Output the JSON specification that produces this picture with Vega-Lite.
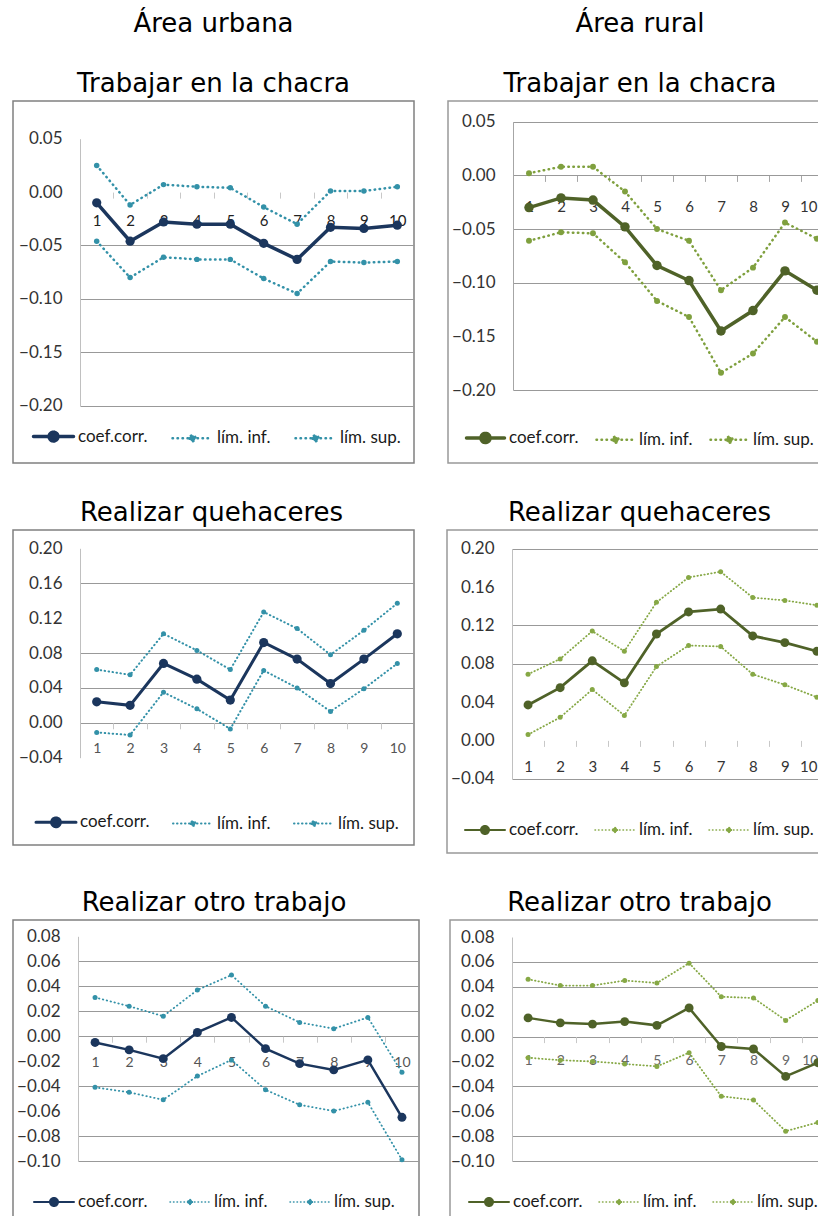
{
  "$schema": "https://vega.github.io/schema/vega-lite/v6.json",
  "padding": {"left": 12, "top": 10, "right": 0, "bottom": 0},
  "spacing": 35,
  "resolve": {"scale": {"color": "independent"}, "legend": {"color": "independent"}},
  "config": {
    "font": "Lato",
    "title": {"font": "DejaVu Sans", "fontSize": 26, "fontWeight": "normal", "color": "#000000", "anchor": "middle", "frame": "group", "baseline": "bottom", "offset": 4, "lineHeight": 30},
    "axis": {"labelFont": "Lato", "labelOverlap": false, "labelSeparation": -30},
    "legend": {"labelFont": "Lato", "padding": 0, "labelLimit": 300}
  },
  "datasets": {
    "u1": [
      {"decil":1,"serie":"coef.corr.","valor":-0.010},{"decil":2,"serie":"coef.corr.","valor":-0.046},{"decil":3,"serie":"coef.corr.","valor":-0.028},{"decil":4,"serie":"coef.corr.","valor":-0.030},{"decil":5,"serie":"coef.corr.","valor":-0.030},{"decil":6,"serie":"coef.corr.","valor":-0.048},{"decil":7,"serie":"coef.corr.","valor":-0.063},{"decil":8,"serie":"coef.corr.","valor":-0.033},{"decil":9,"serie":"coef.corr.","valor":-0.034},{"decil":10,"serie":"coef.corr.","valor":-0.031},
      {"decil":1,"serie":"lím. inf.","valor":-0.046},{"decil":2,"serie":"lím. inf.","valor":-0.080},{"decil":3,"serie":"lím. inf.","valor":-0.061},{"decil":4,"serie":"lím. inf.","valor":-0.063},{"decil":5,"serie":"lím. inf.","valor":-0.063},{"decil":6,"serie":"lím. inf.","valor":-0.081},{"decil":7,"serie":"lím. inf.","valor":-0.095},{"decil":8,"serie":"lím. inf.","valor":-0.065},{"decil":9,"serie":"lím. inf.","valor":-0.066},{"decil":10,"serie":"lím. inf.","valor":-0.065},
      {"decil":1,"serie":"lím. sup.","valor":0.025},{"decil":2,"serie":"lím. sup.","valor":-0.012},{"decil":3,"serie":"lím. sup.","valor":0.007},{"decil":4,"serie":"lím. sup.","valor":0.005},{"decil":5,"serie":"lím. sup.","valor":0.004},{"decil":6,"serie":"lím. sup.","valor":-0.014},{"decil":7,"serie":"lím. sup.","valor":-0.030},{"decil":8,"serie":"lím. sup.","valor":0.001},{"decil":9,"serie":"lím. sup.","valor":0.001},{"decil":10,"serie":"lím. sup.","valor":0.005}
    ],
    "r1": [
      {"decil":1,"serie":"coef.corr.","valor":-0.030},{"decil":2,"serie":"coef.corr.","valor":-0.021},{"decil":3,"serie":"coef.corr.","valor":-0.023},{"decil":4,"serie":"coef.corr.","valor":-0.048},{"decil":5,"serie":"coef.corr.","valor":-0.084},{"decil":6,"serie":"coef.corr.","valor":-0.098},{"decil":7,"serie":"coef.corr.","valor":-0.145},{"decil":8,"serie":"coef.corr.","valor":-0.126},{"decil":9,"serie":"coef.corr.","valor":-0.089},{"decil":10,"serie":"coef.corr.","valor":-0.107},
      {"decil":1,"serie":"lím. inf.","valor":-0.061},{"decil":2,"serie":"lím. inf.","valor":-0.053},{"decil":3,"serie":"lím. inf.","valor":-0.054},{"decil":4,"serie":"lím. inf.","valor":-0.081},{"decil":5,"serie":"lím. inf.","valor":-0.117},{"decil":6,"serie":"lím. inf.","valor":-0.132},{"decil":7,"serie":"lím. inf.","valor":-0.184},{"decil":8,"serie":"lím. inf.","valor":-0.166},{"decil":9,"serie":"lím. inf.","valor":-0.132},{"decil":10,"serie":"lím. inf.","valor":-0.155},
      {"decil":1,"serie":"lím. sup.","valor":0.002},{"decil":2,"serie":"lím. sup.","valor":0.008},{"decil":3,"serie":"lím. sup.","valor":0.008},{"decil":4,"serie":"lím. sup.","valor":-0.015},{"decil":5,"serie":"lím. sup.","valor":-0.050},{"decil":6,"serie":"lím. sup.","valor":-0.061},{"decil":7,"serie":"lím. sup.","valor":-0.107},{"decil":8,"serie":"lím. sup.","valor":-0.086},{"decil":9,"serie":"lím. sup.","valor":-0.044},{"decil":10,"serie":"lím. sup.","valor":-0.059}
    ],
    "u2": [
      {"decil":1,"serie":"coef.corr.","valor":0.024},{"decil":2,"serie":"coef.corr.","valor":0.020},{"decil":3,"serie":"coef.corr.","valor":0.068},{"decil":4,"serie":"coef.corr.","valor":0.050},{"decil":5,"serie":"coef.corr.","valor":0.026},{"decil":6,"serie":"coef.corr.","valor":0.092},{"decil":7,"serie":"coef.corr.","valor":0.073},{"decil":8,"serie":"coef.corr.","valor":0.045},{"decil":9,"serie":"coef.corr.","valor":0.073},{"decil":10,"serie":"coef.corr.","valor":0.102},
      {"decil":1,"serie":"lím. inf.","valor":-0.011},{"decil":2,"serie":"lím. inf.","valor":-0.014},{"decil":3,"serie":"lím. inf.","valor":0.035},{"decil":4,"serie":"lím. inf.","valor":0.016},{"decil":5,"serie":"lím. inf.","valor":-0.007},{"decil":6,"serie":"lím. inf.","valor":0.060},{"decil":7,"serie":"lím. inf.","valor":0.040},{"decil":8,"serie":"lím. inf.","valor":0.013},{"decil":9,"serie":"lím. inf.","valor":0.039},{"decil":10,"serie":"lím. inf.","valor":0.068},
      {"decil":1,"serie":"lím. sup.","valor":0.061},{"decil":2,"serie":"lím. sup.","valor":0.055},{"decil":3,"serie":"lím. sup.","valor":0.102},{"decil":4,"serie":"lím. sup.","valor":0.083},{"decil":5,"serie":"lím. sup.","valor":0.061},{"decil":6,"serie":"lím. sup.","valor":0.127},{"decil":7,"serie":"lím. sup.","valor":0.108},{"decil":8,"serie":"lím. sup.","valor":0.078},{"decil":9,"serie":"lím. sup.","valor":0.106},{"decil":10,"serie":"lím. sup.","valor":0.137}
    ],
    "r2": [
      {"decil":1,"serie":"coef.corr.","valor":0.037},{"decil":2,"serie":"coef.corr.","valor":0.055},{"decil":3,"serie":"coef.corr.","valor":0.083},{"decil":4,"serie":"coef.corr.","valor":0.060},{"decil":5,"serie":"coef.corr.","valor":0.111},{"decil":6,"serie":"coef.corr.","valor":0.134},{"decil":7,"serie":"coef.corr.","valor":0.137},{"decil":8,"serie":"coef.corr.","valor":0.109},{"decil":9,"serie":"coef.corr.","valor":0.102},{"decil":10,"serie":"coef.corr.","valor":0.093},
      {"decil":1,"serie":"lím. inf.","valor":0.006},{"decil":2,"serie":"lím. inf.","valor":0.024},{"decil":3,"serie":"lím. inf.","valor":0.053},{"decil":4,"serie":"lím. inf.","valor":0.026},{"decil":5,"serie":"lím. inf.","valor":0.077},{"decil":6,"serie":"lím. inf.","valor":0.099},{"decil":7,"serie":"lím. inf.","valor":0.098},{"decil":8,"serie":"lím. inf.","valor":0.069},{"decil":9,"serie":"lím. inf.","valor":0.058},{"decil":10,"serie":"lím. inf.","valor":0.045},
      {"decil":1,"serie":"lím. sup.","valor":0.069},{"decil":2,"serie":"lím. sup.","valor":0.085},{"decil":3,"serie":"lím. sup.","valor":0.114},{"decil":4,"serie":"lím. sup.","valor":0.093},{"decil":5,"serie":"lím. sup.","valor":0.144},{"decil":6,"serie":"lím. sup.","valor":0.170},{"decil":7,"serie":"lím. sup.","valor":0.176},{"decil":8,"serie":"lím. sup.","valor":0.149},{"decil":9,"serie":"lím. sup.","valor":0.146},{"decil":10,"serie":"lím. sup.","valor":0.141}
    ],
    "u3": [
      {"decil":1,"serie":"coef.corr.","valor":-0.005},{"decil":2,"serie":"coef.corr.","valor":-0.011},{"decil":3,"serie":"coef.corr.","valor":-0.018},{"decil":4,"serie":"coef.corr.","valor":0.003},{"decil":5,"serie":"coef.corr.","valor":0.015},{"decil":6,"serie":"coef.corr.","valor":-0.010},{"decil":7,"serie":"coef.corr.","valor":-0.022},{"decil":8,"serie":"coef.corr.","valor":-0.027},{"decil":9,"serie":"coef.corr.","valor":-0.019},{"decil":10,"serie":"coef.corr.","valor":-0.065},
      {"decil":1,"serie":"lím. inf.","valor":-0.041},{"decil":2,"serie":"lím. inf.","valor":-0.045},{"decil":3,"serie":"lím. inf.","valor":-0.051},{"decil":4,"serie":"lím. inf.","valor":-0.032},{"decil":5,"serie":"lím. inf.","valor":-0.019},{"decil":6,"serie":"lím. inf.","valor":-0.043},{"decil":7,"serie":"lím. inf.","valor":-0.055},{"decil":8,"serie":"lím. inf.","valor":-0.060},{"decil":9,"serie":"lím. inf.","valor":-0.053},{"decil":10,"serie":"lím. inf.","valor":-0.099},
      {"decil":1,"serie":"lím. sup.","valor":0.031},{"decil":2,"serie":"lím. sup.","valor":0.024},{"decil":3,"serie":"lím. sup.","valor":0.016},{"decil":4,"serie":"lím. sup.","valor":0.037},{"decil":5,"serie":"lím. sup.","valor":0.049},{"decil":6,"serie":"lím. sup.","valor":0.024},{"decil":7,"serie":"lím. sup.","valor":0.011},{"decil":8,"serie":"lím. sup.","valor":0.006},{"decil":9,"serie":"lím. sup.","valor":0.015},{"decil":10,"serie":"lím. sup.","valor":-0.029}
    ],
    "r3": [
      {"decil":1,"serie":"coef.corr.","valor":0.015},{"decil":2,"serie":"coef.corr.","valor":0.011},{"decil":3,"serie":"coef.corr.","valor":0.010},{"decil":4,"serie":"coef.corr.","valor":0.012},{"decil":5,"serie":"coef.corr.","valor":0.009},{"decil":6,"serie":"coef.corr.","valor":0.023},{"decil":7,"serie":"coef.corr.","valor":-0.008},{"decil":8,"serie":"coef.corr.","valor":-0.010},{"decil":9,"serie":"coef.corr.","valor":-0.032},{"decil":10,"serie":"coef.corr.","valor":-0.021},
      {"decil":1,"serie":"lím. inf.","valor":-0.017},{"decil":2,"serie":"lím. inf.","valor":-0.019},{"decil":3,"serie":"lím. inf.","valor":-0.020},{"decil":4,"serie":"lím. inf.","valor":-0.022},{"decil":5,"serie":"lím. inf.","valor":-0.024},{"decil":6,"serie":"lím. inf.","valor":-0.013},{"decil":7,"serie":"lím. inf.","valor":-0.048},{"decil":8,"serie":"lím. inf.","valor":-0.051},{"decil":9,"serie":"lím. inf.","valor":-0.076},{"decil":10,"serie":"lím. inf.","valor":-0.069},
      {"decil":1,"serie":"lím. sup.","valor":0.046},{"decil":2,"serie":"lím. sup.","valor":0.041},{"decil":3,"serie":"lím. sup.","valor":0.041},{"decil":4,"serie":"lím. sup.","valor":0.045},{"decil":5,"serie":"lím. sup.","valor":0.043},{"decil":6,"serie":"lím. sup.","valor":0.059},{"decil":7,"serie":"lím. sup.","valor":0.032},{"decil":8,"serie":"lím. sup.","valor":0.031},{"decil":9,"serie":"lím. sup.","valor":0.013},{"decil":10,"serie":"lím. sup.","valor":0.029}
    ]
  },
  "vconcat": [
    {
      "hconcat": [
        {
          "width": 401, "height": 362,
          "view": {"stroke": "#808080", "strokeWidth": 1.5},
          "title": {"text": ["Área urbana", "Trabajar en la chacra"], "lineHeight": 60},
          "data": {"name": "u1"},
          "encoding": {
            "x": {"field": "decil", "type": "quantitative", "scale": {"domain": [0.5, 10.5], "range": [67, 401], "nice": false, "zero": false},
              "axis": {"orient": "bottom", "offset": -270.9, "values": [1,2,3,4,5,6,7,8,9,10], "title": null, "domain": false, "grid": false, "ticks": true, "tickSize": 6, "tickColor": "#c8c8c8", "tickOffset": -16.7, "labelOffset": 16.7, "labelPadding": 15, "labelFontSize": 15, "labelColor": "#222222", "labelFlush": false, "labelOverlap": false}},
            "y": {"field": "valor", "type": "quantitative", "scale": {"domain": [-0.2, 0.05], "range": [304.7, 37.7], "nice": false, "zero": false},
              "axis": {"orient": "left", "offset": -67, "values": [-0.2, -0.15, -0.1, -0.05, 0, 0.05], "format": ".2f", "title": null, "domain": true, "domainColor": "#c0c0c0", "ticks": false, "labelPadding": 18, "labelFontSize": 17, "labelColor": "#333333", "labelFlush": false, "labelOverlap": false, "labelSeparation": -30, "grid": true, "gridColor": "#999999", "gridOpacity": {"condition": {"test": "datum.value > -0.01", "value": 0}, "value": 1}}},
            "color": {"field": "serie", "type": "nominal", "scale": {"domain": ["coef.corr.", "lím. inf.", "lím. sup."], "range": ["#1b365d", "#3391a8", "#3391a8"]},
              "legend": {"orient": "none", "legendX": 19, "legendY": 314, "direction": "horizontal", "title": null, "labelFontSize": 17, "labelColor": "#1a1a1a", "labelOffset": 3, "columnPadding": 19, "symbolSize": 1600, "symbolStrokeWidth": 2.5,
                "encode": {"symbols": {"update": {
                  "shape": {"signal": "datum.value === 'coef.corr.' ? 'M-1,0L1,0M-0.22,0A0.22,0.22,0,1,0,0.22,0A0.22,0.22,0,1,0,-0.22,0Z' : 'M-1,0L1,0M-0.15,0A0.15,0.15,0,1,0,0.15,0A0.15,0.15,0,1,0,-0.15,0Z'"},
                  "fill": {"signal": "datum.value === 'coef.corr.' ? '#1b365d' : '#3391a8'"},
                  "stroke": {"signal": "datum.value === 'coef.corr.' ? '#1b365d' : '#3391a8'"},
                  "strokeWidth": {"signal": "(datum.value === 'coef.corr.' ? 3.5 : 2.5)"},
                  "strokeDash": {"signal": "datum.value === 'coef.corr.' ? [1, 0] : [0.5, 4.5]"},
                  "strokeCap": {"value": "round"},
                  "opacity": {"value": 1}
                }}}}
            }
          },
          "layer": [
            {"transform": [{"filter": "datum.serie !== 'coef.corr.'"}],
             "mark": {"type": "line", "strokeWidth": 2.5, "strokeDash": [0.5, 4.5], "strokeCap": "round", "clip": true, "point": {"filled": true, "size": 30, "opacity": 1}}},
            {"transform": [{"filter": "datum.serie === 'coef.corr.'"}],
             "mark": {"type": "line", "strokeWidth": 3.5, "clip": true, "point": {"filled": true, "size": 85, "opacity": 1}}}
          ]
        },
        {
          "width": 372, "height": 362,
          "view": {"stroke": "#999999", "strokeWidth": 1.5},
          "title": {"text": ["Área rural", "Trabajar en la chacra"], "lineHeight": 60, "dx": 6},
          "data": {"name": "r1"},
          "encoding": {
            "x": {"field": "decil", "type": "quantitative", "scale": {"domain": [0.5, 10.094], "range": [65, 372], "nice": false, "zero": false},
              "axis": {"orient": "bottom", "offset": -287.6, "values": [1,2,3,4,5,6,7,8,9,10], "title": null, "domain": false, "grid": false, "ticks": true, "tickSize": 6, "tickColor": "#a6a6a6", "tickOffset": -16, "labelOffset": 16, "labelAlign": {"condition": {"test": "datum.value == 10", "value": "right"}, "value": "center"}, "labelPadding": 18, "labelFontSize": 15, "labelColor": "#333333", "labelFlush": false, "labelOverlap": false}},
            "y": {"field": "valor", "type": "quantitative", "scale": {"domain": [-0.2, 0.05], "range": [289, 20.7], "nice": false, "zero": false},
              "axis": {"orient": "left", "offset": -65, "values": [-0.2, -0.15, -0.1, -0.05, 0, 0.05], "format": ".2f", "title": null, "domain": true, "domainColor": "#a6a6a6", "ticks": false, "labelPadding": 18, "labelFontSize": 17, "labelColor": "#333333", "labelFlush": false, "labelOverlap": false, "labelSeparation": -30, "grid": true, "gridColor": "#999999", "gridOpacity": {"condition": {"test": "abs(datum.value + 0.15) < 0.001", "value": 0}, "value": 1}}},
            "color": {"field": "serie", "type": "nominal", "scale": {"domain": ["coef.corr.", "lím. inf.", "lím. sup."], "range": ["#4f6228", "#7fa03e", "#7fa03e"]},
              "legend": {"orient": "none", "legendX": 17, "legendY": 316, "direction": "horizontal", "title": null, "labelFontSize": 17, "labelColor": "#1a1a1a", "labelOffset": 3, "columnPadding": 12, "symbolSize": 1444, "symbolStrokeWidth": 2.5,
                "encode": {"symbols": {"update": {
                  "shape": {"signal": "datum.value === 'coef.corr.' ? 'M-1,0L1,0M-0.24,0A0.24,0.24,0,1,0,0.24,0A0.24,0.24,0,1,0,-0.24,0Z' : 'M-1,0L1,0M-0.16,0A0.16,0.16,0,1,0,0.16,0A0.16,0.16,0,1,0,-0.16,0Z'"},
                  "fill": {"signal": "datum.value === 'coef.corr.' ? '#4f6228' : '#7fa03e'"},
                  "stroke": {"signal": "datum.value === 'coef.corr.' ? '#4f6228' : '#7fa03e'"},
                  "strokeWidth": {"signal": "(datum.value === 'coef.corr.' ? 3.5 : 2.5)"},
                  "strokeDash": {"signal": "datum.value === 'coef.corr.' ? [1, 0] : [0.5, 4.5]"},
                  "strokeCap": {"value": "round"},
                  "opacity": {"value": 1}
                }}}}
            }
          },
          "layer": [
            {"transform": [{"filter": "datum.serie !== 'coef.corr.'"}],
             "mark": {"type": "line", "strokeWidth": 2.5, "strokeDash": [0.5, 4.5], "strokeCap": "round", "clip": true, "point": {"filled": true, "size": 35, "opacity": 1}}},
            {"transform": [{"filter": "datum.serie === 'coef.corr.'"}],
             "mark": {"type": "line", "strokeWidth": 3.5, "clip": true, "point": {"filled": true, "size": 90, "opacity": 1}}}
          ]
        }
      ],
      "spacing": 32,
      "resolve": {"scale": {"color": "independent"}, "legend": {"color": "independent"}}
    },
    {
      "hconcat": [
        {
          "width": 401, "height": 315,
          "view": {"stroke": "#808080", "strokeWidth": 1.5},
          "title": {"text": "Realizar quehaceres", "dx": -2},
          "data": {"name": "u2"},
          "encoding": {
            "x": {"field": "decil", "type": "quantitative", "scale": {"domain": [0.5, 10.5], "range": [67, 401], "nice": false, "zero": false},
              "axis": {"orient": "bottom", "offset": -122.2, "values": [1,2,3,4,5,6,7,8,9,10], "title": null, "domain": false, "grid": false, "ticks": true, "tickSize": 6, "tickColor": "#c8c8c8", "tickOffset": -16.7, "labelOffset": 16.7, "labelPadding": 13, "labelFontSize": 14, "labelColor": "#555555", "labelFlush": false, "labelOverlap": false}},
            "y": {"field": "valor", "type": "quantitative", "scale": {"domain": [-0.04, 0.2], "range": [227.7, 18.3], "nice": false, "zero": false},
              "axis": {"orient": "left", "offset": -67, "values": [-0.04, 0, 0.04, 0.08, 0.12, 0.16, 0.2], "format": ".2f", "title": null, "domain": true, "domainColor": "#c0c0c0", "ticks": false, "labelPadding": 18, "labelFontSize": 17, "labelColor": "#333333", "labelFlush": false, "labelOverlap": false, "labelSeparation": -30, "grid": true, "gridColor": "#999999", "gridOpacity": {"condition": {"test": "abs(datum.value - 0.2) < 0.001 || abs(datum.value - 0.12) < 0.001 || abs(datum.value + 0.04) < 0.001", "value": 0}, "value": 1}}},
            "color": {"field": "serie", "type": "nominal", "scale": {"domain": ["coef.corr.", "lím. inf.", "lím. sup."], "range": ["#1b365d", "#3391a8", "#3391a8"]},
              "legend": {"orient": "none", "legendX": 22, "legendY": 271, "direction": "horizontal", "title": null, "labelFontSize": 17, "labelColor": "#1a1a1a", "labelOffset": 3, "columnPadding": 19, "symbolSize": 1600, "symbolStrokeWidth": 2,
                "encode": {"symbols": {"update": {
                  "shape": {"signal": "datum.value === 'coef.corr.' ? 'M-1,0L1,0M-0.22,0A0.22,0.22,0,1,0,0.22,0A0.22,0.22,0,1,0,-0.22,0Z' : 'M-1,0L1,0M-0.12,0A0.12,0.12,0,1,0,0.12,0A0.12,0.12,0,1,0,-0.12,0Z'"},
                  "fill": {"signal": "datum.value === 'coef.corr.' ? '#1b365d' : '#3391a8'"},
                  "stroke": {"signal": "datum.value === 'coef.corr.' ? '#1b365d' : '#3391a8'"},
                  "strokeWidth": {"signal": "(datum.value === 'coef.corr.' ? 3 : 2)"},
                  "strokeDash": {"signal": "datum.value === 'coef.corr.' ? [1, 0] : [0.5, 3.5]"},
                  "strokeCap": {"value": "round"},
                  "opacity": {"value": 1}
                }}}}
            }
          },
          "layer": [
            {"transform": [{"filter": "datum.serie !== 'coef.corr.'"}],
             "mark": {"type": "line", "strokeWidth": 2, "strokeDash": [0.5, 3.5], "strokeCap": "round", "clip": true, "point": {"filled": true, "size": 25, "opacity": 1}}},
            {"transform": [{"filter": "datum.serie === 'coef.corr.'"}],
             "mark": {"type": "line", "strokeWidth": 3, "clip": true, "point": {"filled": true, "size": 85, "opacity": 1}}}
          ]
        },
        {
          "width": 373, "height": 323,
          "view": {"stroke": "#999999", "strokeWidth": 1.5},
          "title": {"text": "Realizar quehaceres", "dx": 6},
          "data": {"name": "r2"},
          "encoding": {
            "x": {"field": "decil", "type": "quantitative", "scale": {"domain": [0.5, 10.095], "range": [65, 373], "nice": false, "zero": false},
              "axis": {"orient": "bottom", "offset": -112.6, "values": [1,2,3,4,5,6,7,8,9,10], "title": null, "domain": false, "grid": false, "ticks": true, "tickSize": 6, "tickColor": "#c8c8c8", "tickOffset": -16.05, "labelOffset": 16.05, "labelAlign": {"condition": {"test": "datum.value == 10", "value": "right"}, "value": "center"}, "labelPadding": 13, "labelFontSize": 15, "labelColor": "#333333", "labelFlush": false, "labelOverlap": false}},
            "y": {"field": "valor", "type": "quantitative", "scale": {"domain": [-0.04, 0.2], "range": [248.7, 18.7], "nice": false, "zero": false},
              "axis": {"orient": "left", "offset": -65, "values": [-0.04, 0, 0.04, 0.08, 0.12, 0.16, 0.2], "format": ".2f", "labelExpr": "replace(datum.label, '-', '')", "title": null, "domain": true, "domainColor": "#c0c0c0", "ticks": false, "labelPadding": 18, "labelFontSize": 17, "labelColor": "#333333", "labelFlush": false, "labelOverlap": false, "labelSeparation": -30, "grid": true, "gridColor": "#999999", "gridOpacity": {"condition": {"test": "abs(datum.value - 0.16) < 0.001 || abs(datum.value - 0.04) < 0.001 || abs(datum.value) < 0.001", "value": 0}, "value": 1}}},
            "color": {"field": "serie", "type": "nominal", "scale": {"domain": ["coef.corr.", "lím. inf.", "lím. sup."], "range": ["#4f6228", "#86a845", "#86a845"]},
              "legend": {"orient": "none", "legendX": 17, "legendY": 279, "direction": "horizontal", "title": null, "labelFontSize": 17, "labelColor": "#1a1a1a", "labelOffset": 3, "columnPadding": 13, "symbolSize": 1600, "symbolStrokeWidth": 2,
                "encode": {"symbols": {"update": {
                  "shape": {"signal": "datum.value === 'coef.corr.' ? 'M-1,0L1,0M-0.2,0A0.2,0.2,0,1,0,0.2,0A0.2,0.2,0,1,0,-0.2,0Z' : 'M-1,0L1,0M-0.12,0A0.12,0.12,0,1,0,0.12,0A0.12,0.12,0,1,0,-0.12,0Z'"},
                  "fill": {"signal": "datum.value === 'coef.corr.' ? '#4f6228' : '#86a845'"},
                  "stroke": {"signal": "datum.value === 'coef.corr.' ? '#4f6228' : '#86a845'"},
                  "strokeWidth": {"signal": "(datum.value === 'coef.corr.' ? 2 : 1.5)"},
                  "strokeDash": {"signal": "datum.value === 'coef.corr.' ? [1, 0] : [0.5, 3]"},
                  "strokeCap": {"value": "round"},
                  "opacity": {"value": 1}
                }}}}
            }
          },
          "layer": [
            {"transform": [{"filter": "datum.serie !== 'coef.corr.'"}],
             "mark": {"type": "line", "strokeWidth": 1.8, "strokeDash": [0.5, 3], "strokeCap": "round", "clip": true, "point": {"filled": true, "size": 25, "opacity": 1}}},
            {"transform": [{"filter": "datum.serie === 'coef.corr.'"}],
             "mark": {"type": "line", "strokeWidth": 2.8, "clip": true, "point": {"filled": true, "size": 80, "opacity": 1}}}
          ]
        }
      ],
      "spacing": 31,
      "resolve": {"scale": {"color": "independent"}, "legend": {"color": "independent"}}
    },
    {
      "hconcat": [
        {
          "width": 406, "height": 297,
          "view": {"stroke": "#808080", "strokeWidth": 1.5},
          "title": {"text": "Realizar otro trabajo", "dx": -2},
          "data": {"name": "u3"},
          "encoding": {
            "x": {"field": "decil", "type": "quantitative", "scale": {"domain": [0.5, 10.5], "range": [65, 406], "nice": false, "zero": false},
              "axis": {"orient": "bottom", "offset": -180.8, "values": [1,2,3,4,5,6,7,8,9,10], "title": null, "domain": false, "grid": false, "ticks": true, "tickSize": 6, "tickColor": "#c8c8c8", "tickOffset": -17.05, "labelOffset": 17.05, "labelPadding": 13, "labelFontSize": 14, "labelColor": "#555555", "labelFlush": false, "labelOverlap": false}},
            "y": {"field": "valor", "type": "quantitative", "scale": {"domain": [-0.1, 0.08], "range": [241, 16.3], "nice": false, "zero": false},
              "axis": {"orient": "left", "offset": -65, "values": [-0.1, -0.08, -0.06, -0.04, -0.02, 0, 0.02, 0.04, 0.06, 0.08], "format": ".2f", "title": null, "domain": true, "domainColor": "#c0c0c0", "ticks": false, "labelPadding": 18, "labelFontSize": 17, "labelColor": "#333333", "labelFlush": false, "labelOverlap": false, "labelSeparation": -30, "grid": true, "gridColor": "#999999", "gridOpacity": {"condition": {"test": "abs(datum.value - 0.08) < 0.001 || abs(datum.value + 0.02) < 0.001 || abs(datum.value + 0.06) < 0.001", "value": 0}, "value": 1}}},
            "color": {"field": "serie", "type": "nominal", "scale": {"domain": ["coef.corr.", "lím. inf.", "lím. sup."], "range": ["#1b365d", "#3391a8", "#3391a8"]},
              "legend": {"orient": "none", "legendX": 20, "legendY": 261, "direction": "horizontal", "title": null, "labelFontSize": 17, "labelColor": "#1a1a1a", "labelOffset": 3, "columnPadding": 19, "symbolSize": 1600, "symbolStrokeWidth": 2,
                "encode": {"symbols": {"update": {
                  "shape": {"signal": "datum.value === 'coef.corr.' ? 'M-1,0L1,0M-0.2,0A0.2,0.2,0,1,0,0.2,0A0.2,0.2,0,1,0,-0.2,0Z' : 'M-1,0L1,0M-0.12,0A0.12,0.12,0,1,0,0.12,0A0.12,0.12,0,1,0,-0.12,0Z'"},
                  "fill": {"signal": "datum.value === 'coef.corr.' ? '#1b365d' : '#3391a8'"},
                  "stroke": {"signal": "datum.value === 'coef.corr.' ? '#1b365d' : '#3391a8'"},
                  "strokeWidth": {"signal": "(datum.value === 'coef.corr.' ? 2 : 1.5)"},
                  "strokeDash": {"signal": "datum.value === 'coef.corr.' ? [1, 0] : [0.5, 3]"},
                  "strokeCap": {"value": "round"},
                  "opacity": {"value": 1}
                }}}}
            }
          },
          "layer": [
            {"transform": [{"filter": "datum.serie !== 'coef.corr.'"}],
             "mark": {"type": "line", "strokeWidth": 1.8, "strokeDash": [0.5, 3.5], "strokeCap": "round", "clip": true, "point": {"filled": true, "size": 25, "opacity": 1}}},
            {"transform": [{"filter": "datum.serie === 'coef.corr.'"}],
             "mark": {"type": "line", "strokeWidth": 2.5, "clip": true, "point": {"filled": true, "size": 80, "opacity": 1}}}
          ]
        },
        {
          "width": 370, "height": 297,
          "view": {"stroke": "#999999", "strokeWidth": 1.5},
          "title": {"text": "Realizar otro trabajo", "dx": 4.5},
          "data": {"name": "r3"},
          "encoding": {
            "x": {"field": "decil", "type": "quantitative", "scale": {"domain": [0.5, 10.066], "range": [62, 370], "nice": false, "zero": false},
              "axis": {"orient": "bottom", "offset": -180.4, "values": [1,2,3,4,5,6,7,8,9,10], "title": null, "domain": false, "grid": false, "ticks": true, "tickSize": 6, "tickColor": "#c8c8c8", "tickOffset": -16.1, "labelOffset": 16.1, "labelAlign": {"condition": {"test": "datum.value == 10", "value": "right"}, "value": "center"}, "labelPadding": 11, "labelFontSize": 14, "labelColor": "#666666", "labelFlush": false, "labelOverlap": false}},
            "y": {"field": "valor", "type": "quantitative", "scale": {"domain": [-0.1, 0.08], "range": [241, 17], "nice": false, "zero": false},
              "axis": {"orient": "left", "offset": -62, "values": [-0.1, -0.08, -0.06, -0.04, -0.02, 0, 0.02, 0.04, 0.06, 0.08], "format": ".2f", "title": null, "domain": true, "domainColor": "#c0c0c0", "ticks": false, "labelPadding": 18, "labelFontSize": 17, "labelColor": "#333333", "labelFlush": false, "labelOverlap": false, "labelSeparation": -30, "grid": true, "gridColor": "#999999", "gridOpacity": {"condition": {"test": "abs(datum.value - 0.08) < 0.001 || abs(datum.value - 0.02) < 0.001 || abs(datum.value + 0.02) < 0.001 || abs(datum.value + 0.06) < 0.001", "value": 0}, "value": 1}}},
            "color": {"field": "serie", "type": "nominal", "scale": {"domain": ["coef.corr.", "lím. inf.", "lím. sup."], "range": ["#4f6228", "#86a845", "#86a845"]},
              "legend": {"orient": "none", "legendX": 18, "legendY": 261, "direction": "horizontal", "title": null, "labelFontSize": 17, "labelColor": "#1a1a1a", "labelOffset": 3, "columnPadding": 13, "symbolSize": 1600, "symbolStrokeWidth": 2,
                "encode": {"symbols": {"update": {
                  "shape": {"signal": "datum.value === 'coef.corr.' ? 'M-1,0L1,0M-0.2,0A0.2,0.2,0,1,0,0.2,0A0.2,0.2,0,1,0,-0.2,0Z' : 'M-1,0L1,0M-0.12,0A0.12,0.12,0,1,0,0.12,0A0.12,0.12,0,1,0,-0.12,0Z'"},
                  "fill": {"signal": "datum.value === 'coef.corr.' ? '#4f6228' : '#86a845'"},
                  "stroke": {"signal": "datum.value === 'coef.corr.' ? '#4f6228' : '#86a845'"},
                  "strokeWidth": {"signal": "(datum.value === 'coef.corr.' ? 2 : 1.5)"},
                  "strokeDash": {"signal": "datum.value === 'coef.corr.' ? [1, 0] : [0.5, 3]"},
                  "strokeCap": {"value": "round"},
                  "opacity": {"value": 1}
                }}}}
            }
          },
          "layer": [
            {"transform": [{"filter": "datum.serie !== 'coef.corr.'"}],
             "mark": {"type": "line", "strokeWidth": 1.8, "strokeDash": [0.5, 3], "strokeCap": "round", "clip": true, "point": {"filled": true, "size": 25, "opacity": 1}}},
            {"transform": [{"filter": "datum.serie === 'coef.corr.'"}],
             "mark": {"type": "line", "strokeWidth": 2.5, "clip": true, "point": {"filled": true, "size": 80, "opacity": 1}}}
          ]
        }
      ],
      "spacing": 29,
      "resolve": {"scale": {"color": "independent"}, "legend": {"color": "independent"}}
    }
  ]
}
